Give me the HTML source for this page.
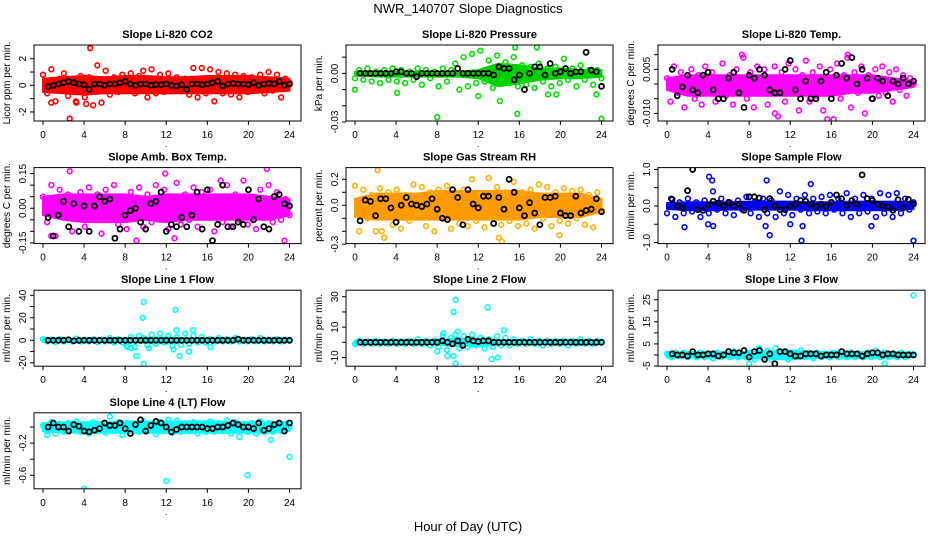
<!DOCTYPE html>
<html><head><meta charset="utf-8"><style>
html,body{margin:0;padding:0;background:#fff}
svg{display:block;font-family:"Liberation Sans",sans-serif}
</style></head><body>
<svg id="chart" width="936" height="540" viewBox="0 0 936 540">
<text x="468" y="13" text-anchor="middle" font-size="13">NWR_140707  Slope Diagnostics</text>
<text x="468" y="531" text-anchor="middle" font-size="13">Hour of Day (UTC)</text>
</svg>
<script>
// x ticks shared
const xTicks = [0,4,8,12,16,20,24];

// Panel 1: CO2
const co2Pts = [0.8,-0.6,1.2,-1.2,0.5,0.9,-0.8,0.3,-1.3,0.7,-0.9,0.6,-1.5,1.5,-1.3,1.1,-0.7,0.6,-0.5,0.8,-0.4,0.9,-0.6,0.7,1.1,-0.9,1.2,-0.6,0.8,-0.5,0.9,-0.4,0.6,-0.3,0.5,-0.7,1.3,-0.9,1.3,-0.6,1.2,-1.2,1.0,-0.6,0.9,-0.7,0.8,-0.9,0.7,-0.5,0.6,-0.4,0.8,-0.6,1.0,-0.4,0.8,-0.9,0.5,0.2];
const co2OutX = [4.6,2.6,4.2,0.8,3.2];
const co2OutY = [2.8,-2.5,-1.4,-1.3,-1.2];
const co2Hi = [0.5,0.6,0.7,0.6,0.7,0.7,0.6,0.6,0.7,0.7,0.7,0.6,0.5];
const co2Lo = [-0.5,-0.6,-0.7,-0.6,-0.6,-0.6,-0.6,-0.6,-0.6,-0.6,-0.6,-0.5,-0.4];
const co2Blk = [-0.1,0,0.1,0.2,0.3,0.2,0.1,0.05,-0.3,0.1,0.1,0,0.1,0.1,0.2,0.3,0.1,0,0.1,0.1,0,0.05,0.05,0.1,0,-0.05,0.05,-0.3,0.1,0.1,0.05,0.1,0.2,0.3,-0.05,0.1,0.15,0.1,0.1,0.05,0.2,0,0.1,0.15,0.1,0.3,0,0.1];

// Panel 2: Pressure
const presPts = [-0.003,0.002,-0.004,0.003,-0.005,0.001,-0.006,0.002,-0.004,0.003,-0.005,0.002,-0.006,0.001,-0.004,0.003,-0.007,0.002,-0.003,0.001,-0.008,0.003,-0.005,0.002,0.006,-0.010,0.010,-0.008,0.012,-0.006,0.014,-0.005,0.008,-0.009,0.011,-0.004,0.007,-0.006,0.010,-0.008,0.005,-0.007,0.004,-0.009,0.006,-0.005,0.003,-0.008,0.004,-0.006,0.009,-0.004,0.003,-0.008,0.005,-0.004,0.002,-0.007,0.002,-0.003];
const presOutX = [8,15.8,14.1,24,0,4.1,12,17.7,15.6,19.6,18.8,23.5];
const presOutY = [-0.027,-0.025,-0.017,-0.028,-0.010,-0.012,-0.014,0.016,0.016,-0.013,-0.013,-0.013];
const presHi = [0.001,0.001,0.001,0.001,0.001,0.001,0.002,0.006,0.005,0.003,0.003,0.002,0.002];
const presLo = [-0.001,-0.002,-0.002,-0.002,-0.002,-0.002,-0.003,-0.008,-0.006,-0.004,-0.003,-0.003,-0.002];
const presBlk = [0,0,0,0,0,0,0,0.001,0.001,0,0,-0.002,0,0,0,0,0,0,0,0.003,0,0,0,0,0,0,-0.001,0.004,0.003,0.003,-0.004,-0.001,-0.010,0,0.004,0.004,-0.001,0.006,0,0.001,0.003,0,0.001,0.001,0.013,0.002,0.001,-0.008];

// Panel 3: Li-820 Temp
const tempPts = [0.002,-0.006,0.006,-0.003,0.004,-0.008,0.001,0.005,-0.005,0.003,-0.007,0.006,-0.002,0.004,-0.006,0.002,0.007,-0.004,0.003,-0.007,0.005,-0.002,0.009,-0.005,0.004,-0.008,0.006,-0.003,0.005,-0.007,0.002,0.006,-0.011,0.004,-0.006,0.007,-0.002,0.005,-0.009,0.003,0.008,-0.006,0.004,-0.004,0.006,-0.009,0.002,0.005,-0.012,0.007,-0.005,0.003,0.009,-0.008,0.004,-0.003,0.006,-0.010,0.003,-0.005,0.005,-0.004,0.006,-0.003,0.004,-0.006,0.005,-0.002,0.003,-0.004,0.002,0];
const tempOutX = [7.3,17.6,15.6,10.5];
const tempOutY = [0.010,0.010,-0.012,-0.010];
const tempHi = [0.002,0.003,0.003,0.003,0.003,0.003,0.003,0.003,0.003,0.003,0.003,0.002,0.001];
const tempLo = [-0.002,-0.004,-0.004,-0.004,-0.004,-0.004,-0.004,-0.004,-0.004,-0.003,-0.003,-0.002,-0.001];
const tempBlk = [0.005,-0.004,-0.001,0.003,-0.002,-0.003,0.003,0.004,-0.002,-0.005,-0.005,0.002,0.004,-0.003,-0.008,0.003,0.002,0.005,0.003,-0.002,-0.003,-0.003,0.005,0.008,-0.002,-0.005,0.001,-0.005,-0.005,0.001,0.004,-0.005,0.003,0.007,0.002,0.009,0,0.005,0.002,-0.005,0.002,0.001,-0.004,0.001,0,0.002,0,0.001];

// Panel 4: Amb Box Temp
const ambPts = [0.05,-0.06,0.10,-0.12,0.08,-0.04,0.06,-0.10,0.04,0.07,-0.08,0.09,-0.05,0.06,-0.11,0.08,-0.03,0.10,-0.07,0.05,-0.09,0.07,-0.04,0.09,-0.08,0.06,-0.06,0.10,-0.05,0.08,-0.09,0.04,0.11,-0.07,0.06,-0.05,0.09,-0.08,0.07,-0.04,0.08,-0.10,0.05,-0.06,0.10,-0.08,0.06,-0.05,0.12,-0.07,0.05,-0.09,0.08,-0.04,0.10,-0.06,0.07,-0.05,0.04,-0.03];
const ambOutX = [2.6,9.1,12.8,16.6,17.3,23.5,21.8,0.8,11.9];
const ambOutY = [0.16,-0.14,-0.13,-0.16,0.12,-0.14,0.17,-0.12,0.15];
const ambHi = [0.05,0.06,0.06,0.06,0.06,0.05,0.06,0.06,0.06,0.06,0.06,0.05,0.04];
const ambLo = [-0.03,-0.05,-0.06,-0.06,-0.06,-0.05,-0.06,-0.05,-0.05,-0.05,-0.05,-0.05,-0.03];
const ambBlk = [-0.04,-0.12,-0.03,0.03,-0.08,0.02,-0.1,0.01,-0.1,0.01,0.05,0.03,0.04,-0.13,-0.09,-0.03,-0.01,0,-0.06,-0.09,0.02,0.03,0.07,-0.1,-0.07,-0.08,-0.04,-0.08,-0.03,0.07,-0.09,0.08,-0.14,-0.07,0.1,-0.08,-0.08,-0.06,-0.07,0.08,-0.05,0.04,-0.08,-0.09,0.05,0.06,0.02,0.01];

// Panel 5: Gas Stream RH
const rhPts = [0.15,-0.2,0.12,-0.1,0.08,-0.2,0.13,-0.25,0.10,-0.15,0.12,-0.18,0.08,-0.12,0.16,-0.05,0.14,-0.16,0.10,-0.20,0.12,-0.08,0.15,-0.18,0.10,-0.14,0.12,-0.16,0.20,-0.12,0.08,-0.17,0.21,-0.10,0.14,-0.15,0.10,-0.12,0.18,-0.16,0.10,-0.14,0.12,-0.18,0.16,-0.10,0.14,-0.16,0.10,-0.12,0.13,-0.14,0.11,-0.10,0.12,-0.15,0.08,-0.17,0.10,-0.04];
const rhOutX = [2.2,14.0,14.3,19.9,2.6];
const rhOutY = [0.27,-0.25,-0.28,-0.23,-0.2];
const rhHi = [0.05,0.09,0.09,0.09,0.11,0.11,0.11,0.11,0.11,0.09,0.09,0.09,0.05];
const rhLo = [-0.09,-0.11,-0.11,-0.11,-0.11,-0.11,-0.11,-0.11,-0.11,-0.09,-0.09,-0.09,-0.05];
const rhBlk = [-0.12,0.04,0.03,-0.08,0.05,0.05,-0.02,-0.13,0,0.06,0.01,0,-0.01,0.01,0.05,-0.03,-0.1,-0.11,0.12,0.06,-0.15,0.12,0.01,-0.02,0.07,0.07,-0.14,0.06,-0.03,0.2,0.1,-0.02,-0.08,0.02,-0.06,-0.15,0.06,0.06,0.07,-0.06,-0.08,-0.08,0.07,-0.06,-0.04,-0.03,0.05,-0.05];

// Panel 6: Sample Flow
const sfPts = [-0.2,0.2,-0.3,0.1,-0.2,0.2,-0.15,0.1,-0.3,0.15,-0.2,0.4,-0.1,0.2,-0.2,0.1,-0.25,0.15,-0.1,0.25,-0.2,0.1,-0.3,0.2,-0.2,0.15,-0.3,0.4,-0.2,0.3,-0.25,0.2,-0.1,0.3,-0.2,0.2,-0.15,0.25,-0.2,0.3,-0.1,0.2,-0.2,0.35,-0.3,0.2,-0.2,0.3,-0.15,0.2,-0.3,0.35,-0.2,0.3,-0.3,0.35,-0.2,0.2,-0.1,0.1];
const sfOutX = [4.1,4.4,9.7,10.0,9.6,13.1,19.9,24.0,4.0,4.5,1.7,13.2,14.0,12.0];
const sfOutY = [0.8,0.7,0.7,-0.8,-0.55,-0.95,-0.55,-0.95,-0.5,-0.55,-0.58,-0.55,0.6,-0.5];
const sfHi = [0.08,0.1,0.1,0.1,0.12,0.12,0.12,0.1,0.1,0.12,0.12,0.12,0.1];
const sfLo = [-0.08,-0.12,-0.12,-0.1,-0.1,-0.1,-0.1,-0.12,-0.12,-0.12,-0.12,-0.12,-0.08];
const sfBlk = [0.18,0,-0.05,0.42,1.0,-0.1,-0.12,0.03,0.13,0.08,0,0.1,0,0.05,-0.12,0.25,0.25,0.22,-0.1,0.2,0,-0.1,-0.1,0,0.05,0.15,0.13,0.05,-0.02,0.05,-0.02,0.1,0.3,0.2,0.02,0.15,0.05,0.85,0.2,0.15,0.05,0,-0.02,-0.12,0.17,-0.05,0.18,0.05];

// Panel 7: Line 1 Flow
const l1Pts = [1,-1,0.5,-1.5,1,-1,0.5,-1,1.5,-1,0.5,-1,1,-1.5,0.5,-1,2,-2,1,-2,-5,3,-6,4,2,-4,5,-3,6,-2,4,-5,3,-4,6,-3,4,-2,3,-2,1,-1,2,-1,1,-1,2,-1,0.5,-1,1,-1,2,-1,0.5,-1,1,-1,0.5,0];
const l1OutX = [9.8,9.7,12.9,9.8,9.1,13.3,14.2,12.7,10.3,14.6,13.0,16.3,8.2,8.6];
const l1OutY = [34,20,27,-21,-14,-14,-10,-8,-7,9,9,-6,-6,-7];
const l1Hi = [1.2,1.2,1.2,1.2,1.5,2.5,2.5,2,1.2,1.2,1.2,1.2,1.2];
const l1Lo = [-1.2,-1.2,-1.2,-1.2,-1.5,-2.5,-2.5,-2,-1.2,-1.2,-1.2,-1.2,-1.2];
const l1Blk = [0,0,0,0,0.5,-0.5,0,0,0,0,0,0,0,0,0,0,0,0,0,0,0,0,0,0,0,0,0,0,0,0,0,0,0,0,0,0,0,1,0,0,0,0,0,0,0,0,0,0];

// Panel 8: Line 2 Flow
const l2Pts = [-1,1,-1,0.5,-1,1,-1,0.5,-1,1,-1,0.5,-1,1,-1,2,-1,1,-2,1,-3,4,-5,3,5,-4,4,-3,5,-2,3,-4,2,-3,4,-2,3,-2,2,-1,1,-1,2,-1,1,-2,1,-1,1,-1,1,-2,1,-1,2,-1,1,-1,1,0];
const l2OutX = [9.8,9.6,12.9,9.8,9.0,9.6,13.3,13.9,14.5,10.0,8.6,8.0];
const l2OutY = [28,20,23,-14,-9,-9,-11,-10,8,7,6,-6];
const l2Hi = [1.2,1.2,1.2,1.2,1.5,2.5,2.5,1.5,1.2,1.2,1.2,1.2,1.2];
const l2Lo = [-1.2,-1.2,-1.2,-1.2,-1.5,-2.5,-2.5,-1.5,-1.2,-1.2,-1.2,-1.2,-1.2];
const l2Blk = [0,0,0,0,0,0,0,0,0,0,0,0,0,0,0,0,1,0,-1,1,-2,2,1,0.5,1,1,0,0,0,0,0,0,0,0,0,0,0,0,0,0,0,0,0,0,0,0,0,0];

// Panel 9: Line 3 Flow
const l3Pts = [0.5,-1,1,-0.5,1,-1,0.5,-1,1,-1,0.5,-1.5,1,-1,0.5,-1,1.5,-1,0.5,-1,1,-2,3,-1.5,2,-2,3,-1,1,-2,1,-1,2,-1,1,-1.5,1,-1,0.5,-1,1,-1,1.5,-1,1,-1,0.5,-1,1,-1,2,-1,1,-1,0.5,-1,1,-1,0.5,0];
const l3OutX = [24,8,21.2];
const l3OutY = [27,-4,-4];
const l3Hi = [1.2,1.2,1.2,1.2,1.5,1.8,2.0,1.5,1.2,1.2,1.2,1.2,1];
const l3Lo = [-1.2,-1.2,-1.2,-1.2,-1.5,-1.8,-2,-1.5,-1.2,-1.2,-1.2,-1.2,-1];
const l3Blk = [0.5,0,0,-0.5,1.5,0,0,0.5,0.5,-0.5,0,1.5,1,1,2,-1,1.5,2,-2,0.5,-4,1.5,1.5,0.5,-0.5,-0.5,0.5,0.5,0.5,-0.5,0,0,0,1.5,0.5,0.5,0.5,-0.5,0.5,1,1,0,0.5,0.5,0,0,0,0];

// Panel 10: Line 4 (LT) Flow
const l4Pts = [0.02,-0.05,0.06,-0.08,0.04,-0.06,0.05,-0.04,0.07,-0.06,0.03,-0.08,0.06,-0.05,0.04,-0.07,0.13,-0.05,0.06,-0.1,0.05,-0.08,0.04,-0.06,0.07,-0.05,0.03,-0.09,0.06,-0.05,0.09,-0.07,0.08,-0.06,0.05,-0.05,0.06,-0.08,0.04,-0.06,0.07,-0.06,0.05,-0.05,0.08,-0.08,0.06,-0.12,0.04,-0.06,0.05,-0.08,0.07,-0.06,0.05,-0.06,0.04,-0.05,0.04,0];
const l4OutX = [4.0,12.0,19.9,24.0,22.2,0.4];
const l4OutY = [-0.77,-0.67,-0.6,-0.37,-0.16,-0.1];
const l4Hi = [0.05,0.06,0.06,0.06,0.07,0.07,0.07,0.07,0.07,0.06,0.06,0.06,0.05];
const l4Lo = [-0.05,-0.07,-0.07,-0.07,-0.07,-0.07,-0.07,-0.07,-0.07,-0.07,-0.07,-0.07,-0.05];
const l4Blk = [0,0.05,0,0,-0.05,0.03,0.01,-0.05,-0.06,-0.04,-0.02,0.05,0.02,0.02,0.05,-0.02,-0.08,0.03,0.09,-0.05,0.02,0.07,0.05,0,-0.06,-0.03,0,0,0,0,0,-0.02,-0.02,0,0,0.02,0.05,0.03,0,0,-0.02,0.05,-0.04,-0.02,0.03,0.05,-0.05,0.05];

const panels = [
 {id:'co2',col:0,row:0,title:'Slope Li-820 CO2',ylab:'Licor ppm per min.',ymax:3.03,ymin:-2.68,ticks:[-2,-1,0,1,2],labs:['-2','','0','','2'],color:'#ff0000',band:'#ff0000',pts:co2Pts,ox:co2OutX,oy:co2OutY,hi:co2Hi,lo:co2Lo,blk:co2Blk},
 {id:'pressure',col:1,row:0,title:'Slope Li-820 Pressure',ylab:'kPa per min.',ymax:0.0175,ymin:-0.0294,ticks:[0.01,0,-0.01,-0.02,-0.03],labs:['','0.00','','','-0.03'],color:'#00e000',band:'#00d000',pts:presPts,ox:presOutX,oy:presOutY,hi:presHi,lo:presLo,blk:presBlk},
 {id:'li820-temp',col:2,row:0,title:'Slope Li-820 Temp.',ylab:'degrees C per min.',ymax:0.0133,ymin:-0.0126,ticks:[0.01,0.005,0,-0.005,-0.01],labs:['','0.005','','','-0.010'],color:'#ff00ff',band:'#ff00ff',pts:tempPts,ox:tempOutX,oy:tempOutY,hi:tempHi,lo:tempLo,blk:tempBlk},
 {id:'amb-box-temp',col:0,row:1,title:'Slope Amb. Box Temp.',ylab:'degrees C per min.',ymax:0.176,ymin:-0.153,ticks:[0.15,0.1,0.05,0,-0.05,-0.1,-0.15],labs:['0.15','','','0.00','','','-0.15'],color:'#ff00ff',band:'#ff00ff',pts:ambPts,ox:ambOutX,oy:ambOutY,hi:ambHi,lo:ambLo,blk:ambBlk},
 {id:'gas-stream-rh',col:1,row:1,title:'Slope Gas Stream RH',ylab:'percent per min.',ymax:0.29,ymin:-0.295,ticks:[0.2,0.1,0,-0.1,-0.2,-0.3],labs:['0.2','','0.0','','','-0.3'],color:'#ffb000',band:'#ff9a00',pts:rhPts,ox:rhOutX,oy:rhOutY,hi:rhHi,lo:rhLo,blk:rhBlk},
 {id:'sample-flow',col:2,row:1,title:'Slope Sample Flow',ylab:'ml/min per min.',ymax:1.05,ymin:-1.03,ticks:[1,0.5,0,-0.5,-1],labs:['1.0','','0.0','','-1.0'],color:'#0000ff',band:'#0000ff',pts:sfPts,ox:sfOutX,oy:sfOutY,hi:sfHi,lo:sfLo,blk:sfBlk},
 {id:'line1-flow',col:0,row:2,title:'Slope Line 1 Flow',ylab:'ml/min per min.',ymax:44.5,ymin:-23,ticks:[40,30,20,10,0,-10,-20],labs:['40','','20','','0','','-20'],color:'#00ffff',band:'#00ffff',pts:l1Pts,ox:l1OutX,oy:l1OutY,hi:l1Hi,lo:l1Lo,blk:l1Blk},
 {id:'line2-flow',col:1,row:2,title:'Slope Line 2 Flow',ylab:'ml/min per min.',ymax:34.3,ymin:-15.7,ticks:[30,20,10,0,-10],labs:['30','','10','','-10'],color:'#00ffff',band:'#00ffff',pts:l2Pts,ox:l2OutX,oy:l2OutY,hi:l2Hi,lo:l2Lo,blk:l2Blk},
 {id:'line3-flow',col:2,row:2,title:'Slope Line 3 Flow',ylab:'ml/min per min.',ymax:29.3,ymin:-5.1,ticks:[25,20,15,10,5,0,-5],labs:['25','','15','','5','','-5'],color:'#00ffff',band:'#00ffff',pts:l3Pts,ox:l3OutX,oy:l3OutY,hi:l3Hi,lo:l3Lo,blk:l3Blk},
 {id:'line4-flow',col:0,row:3,title:'Slope Line 4 (LT) Flow',ylab:'ml/min per min.',ymax:0.177,ymin:-0.768,ticks:[0,-0.2,-0.4,-0.6],labs:['','-0.2','','-0.6'],color:'#00ffff',band:'#00ffff',pts:l4Pts,ox:l4OutX,oy:l4OutY,hi:l4Hi,lo:l4Lo,blk:l4Blk}
];

const NS='http://www.w3.org/2000/svg';
const svg=document.getElementById('chart');
function mk(tag,attrs,parent){const e=document.createElementNS(NS,tag);for(const k in attrs)e.setAttribute(k,attrs[k]);(parent||svg).appendChild(e);return e;}

panels.forEach(p=>{
  const L=34+p.col*312, R=L+267, T=45+p.row*122.6, B=T+76;
  const x0=L+9, x1=L+255.5;
  const xs=v=>x0+(v/24)*(x1-x0);
  const ys=v=>B-(v-p.ymin)/(p.ymax-p.ymin)*(B-T);
  const g=mk('g',{});
  
  
  const clip=mk('clipPath',{id:'c-'+p.id},g);
  mk('rect',{x:L,y:T,width:R-L,height:B-T},clip);
  const plot=mk('g',{'clip-path':'url(#c-'+p.id+')'},g);
  
  
  let d='';
  p.hi.forEach((v,i)=>{d+=(i?'L':'M')+xs(i*2).toFixed(1)+','+ys(v).toFixed(1);});
  for(let i=p.lo.length-1;i>=0;i--) d+='L'+xs(i*2).toFixed(1)+','+ys(p.lo[i]).toFixed(1);
  const band=mk('path',{d:d+'Z',fill:p.band,stroke:p.band,'stroke-width':2,'stroke-linejoin':'round'},plot);
  
  
  const n=p.pts.length;
  p.pts.forEach((v,i)=>{
    const c=mk('circle',{cx:xs(i*24/(n-1)),cy:ys(v),r:2.4,fill:'none',stroke:p.color,'stroke-width':1.6},plot);
    
    
  });
  p.ox.forEach((xv,i)=>{
    const c=mk('circle',{cx:xs(xv),cy:ys(p.oy[i]),r:2.4,fill:'none',stroke:p.color,'stroke-width':1.6},plot);
    
    
  });
  p.blk.forEach((v,i)=>{
    const c=mk('circle',{cx:xs(0.5+i*23.5/(p.blk.length-1)),cy:ys(v),r:2.5,fill:'none',stroke:'#000','stroke-width':1.8},plot);
    
    
  });
  const box=mk('rect',{x:L,y:T,width:R-L,height:B-T,fill:'none',stroke:'#000','stroke-width':1},g);
  
  
  const t=mk('text',{x:(L+R)/2,y:T-7,'text-anchor':'middle','font-size':11,'font-weight':'bold'},g);
  t.textContent=p.title;
  
  
  xTicks.forEach(v=>{
    mk('line',{x1:xs(v),x2:xs(v),y1:B,y2:B+4,stroke:'#000'},g);
    const tl=mk('text',{x:xs(v),y:B+17,'text-anchor':'middle','font-size':10},g);
    tl.textContent=v;
    
    
  });
  const dot=mk('text',{x:xs(12),y:B+26,'text-anchor':'middle','font-size':9},g);
  dot.textContent='.';
  p.ticks.forEach((v,i)=>{
    mk('line',{x1:L-4,x2:L,y1:ys(v),y2:ys(v),stroke:'#000'},g);
    if(p.labs[i]){
      const yl=mk('text',{x:0,y:0,'text-anchor':'middle','font-size':10,transform:'translate('+(L-8)+','+ys(v)+') rotate(-90)'},g);
      yl.textContent=p.labs[i];
      
      
    }
  });
  const ylab=mk('text',{x:0,y:0,'text-anchor':'middle','font-size':10,transform:'translate('+(L-24)+','+((T+B)/2)+') rotate(-90)'},g);
  ylab.textContent=p.ylab;
  
  
});
</script>
</body></html>
